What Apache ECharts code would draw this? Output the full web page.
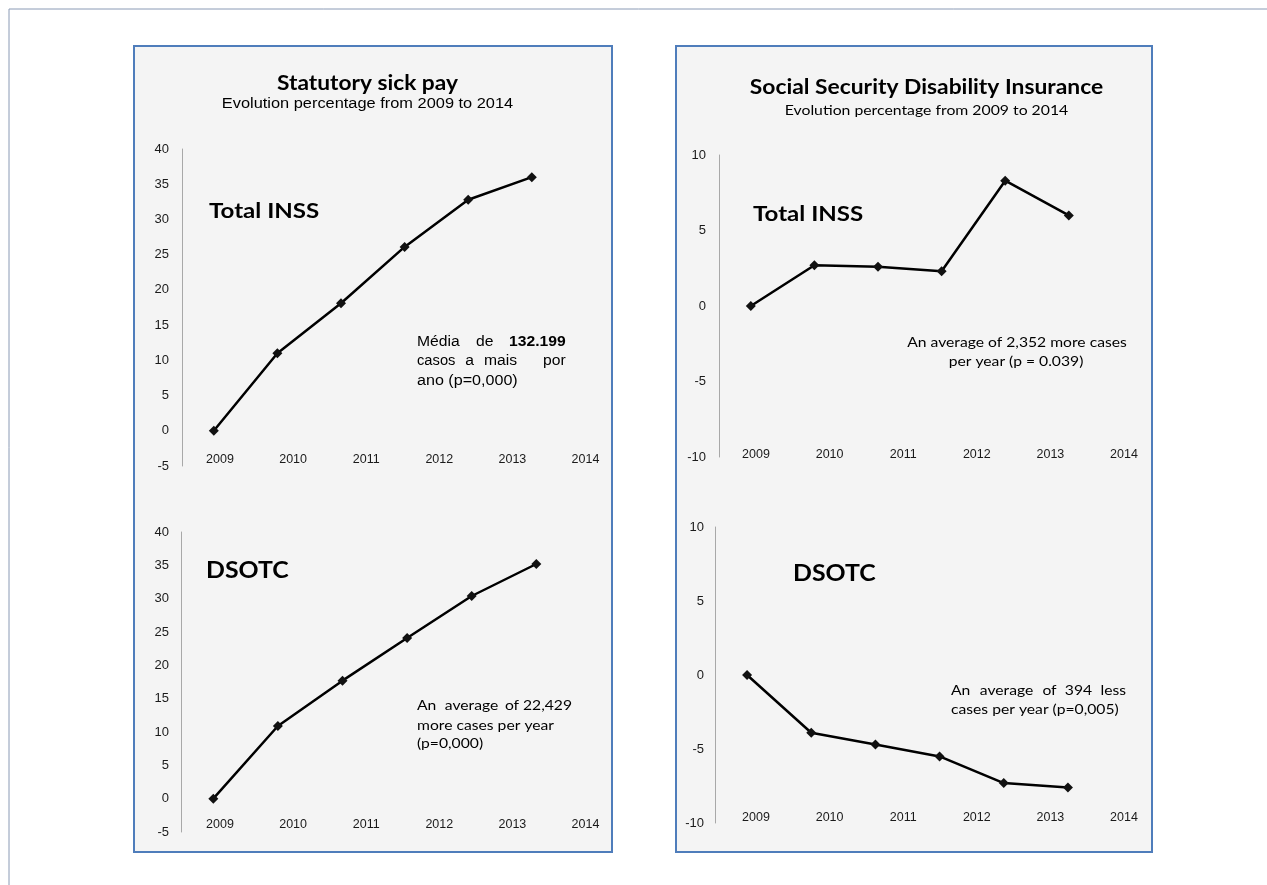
<!DOCTYPE html>
<html>
<head>
<meta charset="utf-8">
<script src="https://cdn.jsdelivr.net/npm/echarts@6/dist/echarts.min.js"></script>
<style>
html,body{margin:0;padding:0;background:#fff;}
#chart{width:1267px;height:885px;}
</style>
</head>
<body>
<div id="chart"></div>
<script>
// ---------- data ----------
const years = ['2009', '2010', '2011', '2012', '2013', '2014'];
const sickPayTotal = [0, 11.0, 18.1, 26.1, 32.8, 36.0];
const sickPayDSOTC = [0, 10.9, 17.7, 24.1, 30.4, 35.2];
const disabilityTotal = [0, 2.7, 2.6, 2.3, 8.3, 6.0];
const disabilityDSOTC = [0, -3.9, -4.7, -5.5, -7.3, -7.6];
const sickPayAxis = [-5, 40, 5];       // min, max, interval
const disabilityAxis = [-10, 10, 5];

// ---------- layout ----------
const panels = [
  { values: sickPayTotal, axis: sickPayAxis, grid: {left: 182, top: 149, width: 381.6, height: 317}, lab: {left: 220, width: 365.5, y: 459}, ylm: 13 },
  { values: sickPayDSOTC, axis: sickPayAxis, grid: {left: 181, top: 532, width: 387.6, height: 300}, lab: {left: 220, width: 365.5, y: 824}, ylm: 12 },
  { values: disabilityTotal, axis: disabilityAxis, grid: {left: 719, top: 155, width: 381.6, height: 302}, lab: {left: 756, width: 368, y: 454}, ylm: 13 },
  { values: disabilityDSOTC, axis: disabilityAxis, grid: {left: 715, top: 527, width: 385, height: 296}, lab: {left: 756, width: 368, y: 817}, ylm: 11 }
];

const grid = [], xAxis = [], yAxis = [], series = [];
panels.forEach((p) => {
  // data grid
  const gi = grid.length;
  grid.push({left: p.grid.left, top: p.grid.top, width: p.grid.width, height: p.grid.height});
  xAxis.push({type: 'value', gridIndex: gi, min: -0.5, max: 5.5, show: false});
  yAxis.push({
    type: 'value', gridIndex: gi, min: p.axis[0], max: p.axis[1], interval: p.axis[2],
    axisLine: {show: true, onZero: false, lineStyle: {color: '#a8a8a8', width: 1}},
    axisTick: {show: false}, splitLine: {show: false},
    axisLabel: {margin: p.ylm, fontSize: 13, color: '#1a1a1a', fontFamily: 'Liberation Sans, Arial'}
  });
  series.push({
    type: 'line', xAxisIndex: gi, yAxisIndex: gi,
    data: p.values.map((v, i) => [i, v]),
    symbol: 'diamond', symbolSize: 10,
    lineStyle: {color: '#000', width: 2.5},
    itemStyle: {color: '#111'}, z: 5
  });
  // label grid (year labels)
  const li = grid.length;
  grid.push({left: p.lab.left, top: p.lab.y - 40, width: p.lab.width, height: 34});
  xAxis.push({
    type: 'category', gridIndex: li, data: years, boundaryGap: false,
    axisLine: {show: false}, axisTick: {show: false}, splitLine: {show: false},
    axisLabel: {margin: 0, interval: 0, fontSize: 12.5, color: '#1a1a1a', fontFamily: 'Liberation Sans, Arial'}
  });
  yAxis.push({type: 'value', gridIndex: li, show: false});
});

// ---------- texts ----------
const SX = 1.12;
function txt(text, x, y, o) {
  o = o || {};
  return {
    type: 'text', x: x, y: y, z: 20, scaleX: o.sx || SX,
    style: {
      text: text, fill: '#000',
      fontSize: o.size || 14, fontFamily: o.family || 'Lato',
      fontWeight: o.weight || 'normal',
      textAlign: o.align || 'left', textVerticalAlign: 'middle'
    }
  };
}
const ARIAL = 'Liberation Sans, Arial';
const graphics = [
  {type: 'rect', z: -10, shape: {x: 9, y: 9, width: 1300, height: 900}, style: {fill: '#fff', stroke: '#8a9ab5', lineWidth: 1}},
  {type: 'rect', z: -9, shape: {x: 134, y: 46, width: 478, height: 806}, style: {fill: '#f4f4f4', stroke: '#4f7dbb', lineWidth: 2}},
  {type: 'rect', z: -9, shape: {x: 676, y: 46, width: 476, height: 806}, style: {fill: '#f4f4f4', stroke: '#4f7dbb', lineWidth: 2}},

  txt('Statutory sick pay', 367.5, 83, {size: 20.3, weight: 'bold', align: 'center'}),
  txt('Evolution percentage from 2009 to 2014', 367.5, 104, {size: 14, family: ARIAL, align: 'center', sx: 1.17}),
  txt('Social Security Disability Insurance', 926.5, 87, {size: 20.4, weight: 'bold', align: 'center'}),
  txt('Evolution percentage from 2009 to 2014', 926.5, 110, {size: 14.1, align: 'center'}),

  txt('Total INSS', 209, 211, {size: 21.5, weight: 'bold'}),
  txt('Total INSS', 753, 214, {size: 21.5, weight: 'bold'}),
  txt('DSOTC', 206, 571, {size: 22.2, weight: 'bold'}),
  txt('DSOTC', 793, 574, {size: 22.2, weight: 'bold'}),

  // top-left annotation (justified)
  txt('Média', 417, 342, {size: 14, family: ARIAL, sx: 1.12}),
  txt('de', 484.7, 342, {size: 14, family: ARIAL, sx: 1.12, align: 'center'}),
  txt('132.199', 565.7, 342, {size: 14, family: ARIAL, sx: 1.12, align: 'right', weight: 'bold'}),
  txt('casos', 417, 361, {size: 14, family: ARIAL, sx: 1.05}),
  txt('a', 469.5, 361, {size: 14, family: ARIAL, sx: 1.12, align: 'center'}),
  txt('mais', 500.5, 361, {size: 14, family: ARIAL, sx: 1.12, align: 'center'}),
  txt('por', 565.7, 361, {size: 14, family: ARIAL, sx: 1.12, align: 'right'}),
  txt('ano (p=0,000)', 417, 381, {size: 14, family: ARIAL, sx: 1.15}),

  // top-right annotation
  txt('An average of 2,352 more cases', 1017, 342, {align: 'center'}),
  txt('per year (p = 0.039)', 1016, 361, {align: 'center'}),

  // bottom-left annotation
  txt('An', 417, 705),
  txt('average', 471.5, 705, {align: 'center'}),
  txt('of', 512, 705, {align: 'center'}),
  txt('22,429', 572, 705, {align: 'right'}),
  txt('more cases per year', 417, 725),
  txt('(p=0,000)', 417, 743),

  // bottom-right annotation
  txt('An', 951, 690),
  txt('average', 1006.5, 690, {align: 'center'}),
  txt('of', 1049.5, 690, {align: 'center'}),
  txt('394', 1078.5, 690, {align: 'center'}),
  txt('less', 1126, 690, {align: 'right'}),
  txt('cases per year (p=0,005)', 951, 709)
];

const chart = echarts.init(document.getElementById('chart'));
chart.setOption({
  animation: false,
  backgroundColor: '#fff',
  grid: grid, xAxis: xAxis, yAxis: yAxis, series: series,
  graphic: {elements: graphics}
});
</script>
</body>
</html>
